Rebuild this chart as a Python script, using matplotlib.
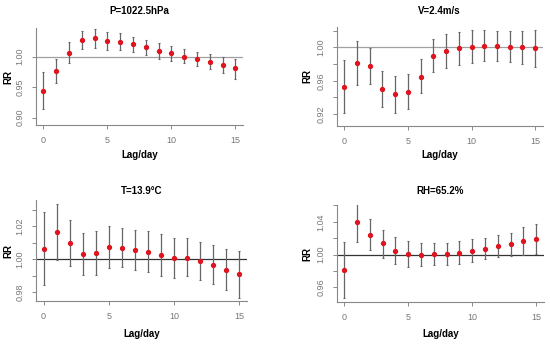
import numpy as np
import matplotlib
matplotlib.use("Agg")
from matplotlib import pyplot as plt

plt.rcParams["font.family"] = ["Liberation Sans", "DejaVu Sans"]

lags = list(range(16))

# P=1022.5hPa
p_rr = [0.944, 0.977, 1.0066, 1.027, 1.031, 1.025, 1.024, 1.021, 1.016, 1.009,
        1.0055, 1.000, 0.996, 0.991, 0.986, 0.981]
p_lo = [0.915, 0.957, 0.990, 1.0126, 1.015, 1.011, 1.011, 1.008, 1.003, 0.997,
        0.993, 0.989, 0.985, 0.979, 0.973, 0.964]
p_hi = [0.975, 0.997, 1.0235, 1.042, 1.046, 1.040, 1.038, 1.033, 1.028, 1.022,
        1.017, 1.012, 1.008, 1.004, 1.000, 0.997]

# V=2.4m/s
v_rr = [0.9524, 0.9812, 0.978, 0.950, 0.9436, 0.947, 0.965, 0.990, 0.9956, 0.999,
        1.001, 1.002, 1.002, 1.001, 1.0004, 0.9988]
v_lo = [0.9208, 0.955, 0.956, 0.929, 0.921, 0.926, 0.945, 0.970, 0.975, 0.979,
        0.981, 0.9836, 0.984, 0.983, 0.980, 0.976]
v_hi = [0.9844, 1.0072, 0.999, 0.972, 0.966, 0.968, 0.986, 1.010, 1.016, 1.019,
        1.021, 1.021, 1.020, 1.020, 1.020, 1.021]

# T=13.9C
t_rr = [1.0065, 1.0164, 1.0099, 1.003, 1.0038, 1.0075, 1.0071, 1.0059, 1.0046, 1.0024,
        1.0008, 1.001, 0.9992, 0.9964, 0.9937, 0.9911]
t_lo = [0.9846, 0.9996, 0.9958, 0.9903, 0.9907, 0.9947, 0.9952, 0.9935, 0.9921, 0.9897,
        0.9887, 0.9897, 0.9877, 0.985, 0.9812, 0.9768]
t_hi = [1.0285, 1.0335, 1.0238, 1.0158, 1.0174, 1.0204, 1.0192, 1.018, 1.017, 1.0152,
        1.0131, 1.0129, 1.0105, 1.0085, 1.0065, 1.0053]

# RH=65.2%
h_rr = [0.9805, 1.0402, 1.024, 1.0138, 1.0049, 1.0004, 1.000, 1.0004, 1.0012, 1.0024,
        1.0045, 1.0073, 1.0102, 1.013, 1.0162, 1.0195]
h_lo = [0.9468, 1.015, 1.0057, 0.996, 0.989, 0.9846, 0.9854, 0.9866, 0.987, 0.989,
        0.991, 0.9943, 0.9968, 0.9988, 1.000, 1.0008]
h_hi = [1.0158, 1.0646, 1.043, 1.030, 1.021, 1.0167, 1.0138, 1.0142, 1.0146, 1.017,
        1.0187, 1.0203, 1.0236, 1.0268, 1.033, 1.0378]

panels = [
    dict(title="P=1022.5hPa", rr=p_rr, lo=p_lo, hi=p_hi,
         rect=[0.065, 0.6366, 0.377, 0.282], ylim=(0.888, 1.047),
         ticks=[0.90, 0.95, 1.00], labels=["0.90", "0.95", "1.00"],
         hcol="#a0a0a0", title_y=0.969, xlab_y=0.549, ylab_x=0.015),
    dict(title="V=2.4m/s", rr=v_rr, lo=v_lo, hi=v_hi,
         rect=[0.612, 0.6346, 0.375, 0.288], ylim=(0.906, 1.025),
         ticks=[0.92, 0.94, 0.96, 0.98, 1.00, 1.02],
         labels=["0.92", "", "0.96", "", "1.00", ""],
         hcol="#a0a0a0", title_y=0.969, xlab_y=0.549, ylab_x=0.558),
    dict(title="T=13.9\u00b0C", rr=t_rr, lo=t_lo, hi=t_hi,
         rect=[0.065, 0.125, 0.384, 0.293], ylim=(0.9747, 1.0358),
         ticks=[0.98, 0.99, 1.00, 1.01, 1.02, 1.03],
         labels=["0.98", "", "1.00", "", "1.02", ""],
         hcol="#333333", title_y=0.445, xlab_y=0.029, ylab_x=0.015),
    dict(title="RH=65.2%", rr=h_rr, lo=h_lo, hi=h_hi,
         rect=[0.612, 0.122, 0.377, 0.281], ylim=(0.942, 1.0597),
         ticks=[0.96, 0.98, 1.00, 1.02, 1.04, 1.06],
         labels=["0.96", "", "1.00", "", "1.04", ""],
         hcol="#333333", title_y=0.445, xlab_y=0.029, ylab_x=0.558),
]

fig = plt.figure(figsize=(5.5, 3.44), dpi=100)

for p in panels:
    ax = fig.add_axes(p["rect"])
    rr = np.array(p["rr"])
    err = [rr - np.array(p["lo"]), np.array(p["hi"]) - rr]
    ax.axhline(1.0, color=p["hcol"], lw=0.9, zorder=1)
    ax.errorbar(lags, rr, yerr=err, fmt="none", ecolor="#666666",
                elinewidth=0.9, capsize=1.0, capthick=0.8, zorder=2)
    ax.plot(lags, rr, "o", color="#e0141e", ms=2.8, mec="#e0141e", zorder=3)
    ax.set_xlim(-0.6, 15.6)
    ax.set_ylim(*p["ylim"])
    ax.set_xticks([0, 5, 10, 15])
    ax.set_yticks(p["ticks"])
    ax.set_yticklabels(p["labels"], rotation=90, va="center")
    for s in ("top", "right"):
        ax.spines[s].set_visible(False)
    for s in ("left", "bottom"):
        ax.spines[s].set_color("#888888")
        ax.spines[s].set_linewidth(0.8)
    ax.tick_params(length=3, width=0.7, color="#888888", labelcolor="#777777",
                   labelsize=6.5, pad=5)
    cx = p["rect"][0] + p["rect"][2] / 2
    fig.text(cx, p["title_y"], p["title"], ha="center", va="center",
             fontsize=7, fontweight="bold")
    fig.text(cx, p["xlab_y"], "Lag/day", ha="center", va="center",
             fontsize=7, fontweight="bold")
    fig.text(p["ylab_x"], p["rect"][1] + p["rect"][3] / 2, "RR", ha="center",
             va="center", rotation=90, fontsize=7, fontweight="bold")

fig.savefig("out.png", dpi=100)
